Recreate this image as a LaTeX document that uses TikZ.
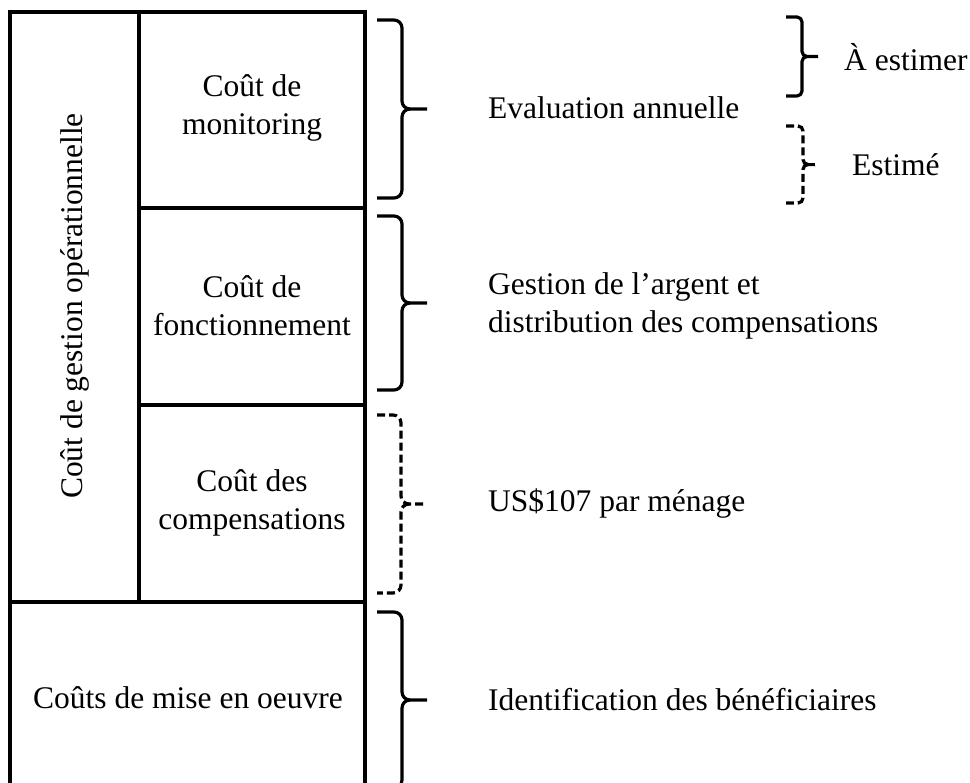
\documentclass[tikz,border=0pt]{standalone}
\usepackage{fontspec}
\setmainfont{Liberation Serif}
\begin{document}
\begin{tikzpicture}[x=1pt,y=-1pt,
  box/.style={line width=3.2pt},
  brc/.style={line width=3.2pt,line join=round},
  dbrc/.style={line width=3.2pt,dash pattern=on 8pt off 4pt},
  txt/.style={font=\fontsize{31.5}{38}\selectfont,inner sep=0pt},
  lab/.style={txt,anchor=west,align=left}]
\useasboundingbox (0,0) rectangle (970,783);
% boxes
\draw[box] (10,795) -- (10,12) -- (365,12) -- (365,795);
\draw[box] (139,12) -- (139,602);
\draw[box] (139,208) -- (365,208);
\draw[box] (139,405) -- (365,405);
\draw[box] (10,602) -- (365,602);
% box texts
\node[txt,align=center] (mon) at (252,108) {Coût de\\monitoring};
\node[txt,align=center] (fon) at (252,306) {Coût de\\fonctionnement};
\node[txt,align=center] (com) at (252,503) {Coût des\\compensations};
\node[txt] (mise) at (188,698) {Coûts de mise en oeuvre};
\node[txt,rotate=90] (ges) at (75,306) {Coût de gestion opérationnelle};
% braces
\newcommand{\mybrace}[7]{% style, top, bottom, xstub, xvert, xtip, radius
  \pgfmathsetmacro{\mymid}{(#2+#3)/2}
  \draw[#1] (#4,#2) -- (#5-#7,#2) to[out=0,in=90] (#5,#2+#7) -- (#5,\mymid-#7)
    to[out=-90,in=180] (#5+#7,\mymid) -- (#6,\mymid);
  \draw[#1] (#5+#7,\mymid) to[out=180,in=90] (#5,\mymid+#7) -- (#5,#3-#7)
    to[out=-90,in=0] (#5-#7,#3) -- (#4,#3);}
\mybrace{brc}{20}{198}{377}{402}{427}{8}
\mybrace{brc}{216}{390}{377}{402}{427}{8}
\mybrace{dbrc}{415}{593}{377}{401}{423}{8}
\mybrace{brc}{612}{788}{377}{402}{427}{8}
% legend braces
\mybrace{brc}{17}{96}{786}{802}{818}{5}
\mybrace{dbrc}{126}{203}{786}{803}{807}{5}
\draw[brc] (807,164.5) -- (815,164.5);
% labels
\node[lab] (eval) at (488,108) {Evaluation annuelle};
\node[lab] (arg) at (488,306) {Gestion de l’argent et\\distribution des compensations};
\node[lab] (us) at (488,503) {US\$107 par ménage};
\node[lab] (id) at (488,700) {Identification des bénéficiaires};
\node[lab] (aest) at (844,57) {À estimer};
\node[lab] (est) at (852,165) {Estimé};
\end{tikzpicture}
\end{document}
